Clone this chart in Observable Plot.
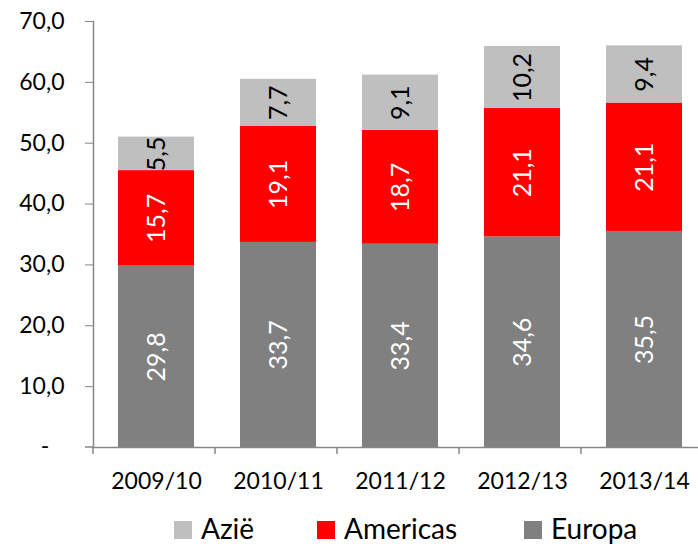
<!DOCTYPE html>
<html><head><meta charset="utf-8">
<script src="https://cdn.jsdelivr.net/npm/d3@7"></script>
<script src="https://cdn.jsdelivr.net/npm/@observablehq/plot@0.6"></script>
<style>
body{margin:0;background:#fff;font-family:Lato,"Open Sans",sans-serif;overflow:hidden;}
#legend{height:47px;position:relative;font-size:28px;color:#000;}
.sw{position:absolute;width:18px;height:18px;top:24px;}
.lt{position:absolute;top:15px;line-height:32px;}
</style></head><body>
<div id="chart"></div>
<div id="legend"></div>
<script>
const years = ["2009/10","2010/11","2011/12","2012/13","2013/14"];
const series = ["Europa","Americas","Azië"];
const europa = [29.8,33.7,33.4,34.6,35.5];
const americas = [15.7,19.1,18.7,21.1,21.1];
const azie = [5.5,7.7,9.1,10.2,9.4];
const colors = ["#808080","#FF0000","#BFBFBF"];
const labelColors = ["#fff","#fff","#000"];
const yTicks = [0,10,20,30,40,50,60,70];
const legendOrder = ["Azië","Americas","Europa"];

const vals = [europa, americas, azie];
const data = [];
series.forEach((s,i)=>years.forEach((y,j)=>data.push({year:y, series:s, value:vals[i][j], order:i})));

const fmt = v => v.toFixed(1).replace(".", ",");

const plot = Plot.plot({
  width: 698, height: 497,
  marginLeft: 93, marginRight: -9, marginTop: 21, marginBottom: 50,
  style: {fontFamily: "Lato, 'Open Sans', sans-serif", fontSize: "23px", color: "#000"},
  x: {domain: years, paddingInner: 0.38, paddingOuter: 0.19, label: null},
  y: {domain: [0,70], label: null},
  color: {domain: series, range: colors},
  marks: [
    Plot.barY(data, Plot.stackY({x:"year", y:"value", fill:"series", order: series})),
    Plot.text(data, Plot.stackY({x:"year", y:"value", order: series, text: d=>fmt(d.value), rotate:-90,
      fill: d=>labelColors[d.order], fontSize: 25})),
    Plot.axisY({ticks: yTicks.filter(d=>d>0), tickFormat: fmt, tickSize: 8, tickPadding: 21, stroke:"#868686", fontSize: 23}),
    Plot.ruleY([0], {stroke:"#868686", strokeWidth: 1.5}),
    Plot.frame({anchor:"left", stroke:"#868686", strokeWidth: 1.5}),
    Plot.axisX({tickSize: 0, tickPadding: 25, fontSize: 23})
  ]
});
plot.querySelectorAll("text").forEach(t=>t.setAttribute("fill-opacity","1"));
document.getElementById("chart").append(plot);

// y=0 tick, "-" label and band boundary ticks on x axis
const xs = plot.scale("x"), ys = plot.scale("y");
const svg = d3.select(plot);
const y0 = ys.apply(0);
const step = xs.step, left = xs.range[0];
const g = svg.append("g").attr("stroke","#868686").attr("stroke-width",1.5);
g.append("line").attr("x1",left-8).attr("x2",left).attr("y1",y0).attr("y2",y0);
for (let i=0;i<=years.length;i++){
  const x = left + i*step;
  g.append("line").attr("x1",x).attr("x2",x).attr("y1",y0).attr("y2",y0+7);
}
svg.append("text").attr("x", left-48).attr("y", y0).attr("dy","0.32em")
  .attr("text-anchor","middle").attr("font-size",23).text("-");

const legendX = {"Azië":174, "Americas":317, "Europa":524};
const lg = document.getElementById("legend");
legendOrder.forEach(n=>{
  const c = colors[series.indexOf(n)], x = legendX[n];
  const s = document.createElement("div"); s.className="sw"; s.style.left=x+"px"; s.style.background=c;
  const t = document.createElement("div"); t.className="lt"; t.style.left=(x+27)+"px"; t.textContent=n;
  lg.append(s, t);
});
</script>
</body></html>
